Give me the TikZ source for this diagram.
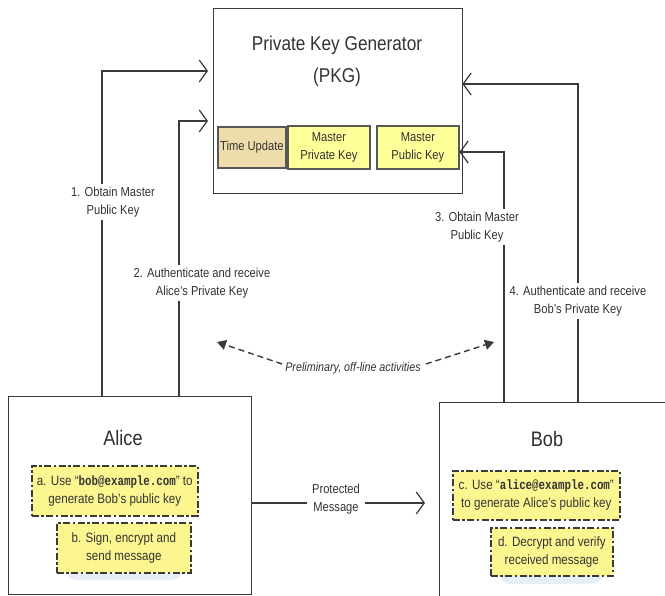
\documentclass[tikz,border=0pt]{standalone}
\usepackage{fontspec}
\setmainfont{Liberation Sans}[FakeStretch=0.86]
\newfontfamily\emailfont{Liberation Mono}[FakeStretch=0.8]
\usetikzlibrary{arrows.meta,calc}
\definecolor{txt}{HTML}{333333}
\definecolor{ln}{HTML}{3A3A3A}
\definecolor{ylw}{HTML}{FFFF99}
\definecolor{dylw}{HTML}{FCF690}
\definecolor{tan}{HTML}{EEDDAA}
\definecolor{glow}{HTML}{E8EEF7}
\begin{document}
\begin{tikzpicture}[x=1pt,y=-1pt,
  frame/.style={draw=ln, line width=1.4pt, fill=white, anchor=north west, inner sep=0pt},
  keybox/.style={draw=ln!85, line width=1.8pt, fill=ylw, anchor=north west, inner sep=1pt,
     align=center, text=txt, font=\fontsize{13}{18}\selectfont},
  timebox/.style={keybox, fill=tan},
  dbox/.style={draw=ln, line width=1.6pt, dash pattern=on 7pt off 2.5pt on 2.5pt off 2.5pt,
     fill=dylw, anchor=north west, inner sep=1pt, align=center, text=txt,
     font=\fontsize{13.5}{17.7}\selectfont},
  who/.style={text=txt!90!black, font=\fontsize{21}{24}\selectfont},
  lab/.style={fill=white, inner sep=3pt, align=center, text=txt, font=\fontsize{13}{18.5}\selectfont},
  conn/.style={draw=ln, line width=1.2pt, -{Straight Barb[length=8pt,width=22pt,line width=1.2pt]}},
  dsh/.style={draw=ln, line width=1.4pt, dash pattern=on 6pt off 4pt, -{Triangle[length=9pt,width=10pt]}},
]
\useasboundingbox (0,0) rectangle (665,596);
\clip (0,0) rectangle (665,596);
\fill[white] (0,0) rectangle (665,596);

% PKG
\node[frame, minimum width=249pt, minimum height=185pt] (pkg) at (213,8) {};
\node[text=txt, align=center, font=\fontsize{20}{32}\selectfont] (pkgt) at (337,61) {Private Key Generator\\(PKG)};
\node[timebox, minimum width=68pt, minimum height=41pt] (time) at (217,126) {Time Update};
\node[keybox, minimum width=82pt, minimum height=43pt] (mpriv) at (287,125) {Master\\Private Key};
\node[keybox, minimum width=82pt, minimum height=43pt] (mpub) at (376,125) {Master\\Public Key};

% Alice
\node[frame, minimum width=243pt, minimum height=198pt] (alice) at (8,396) {};
\node[who] (alicet) at (123,438) {Alice};
\fill[glow, rounded corners=10pt] (66,560) rectangle (182,580);
\node[dbox, minimum width=166pt, minimum height=50pt] (sa) at (31,465) {a. Use “{\emailfont\bfseries bob@example.com}” to\\generate Bob's public key};
\node[dbox, minimum width=134pt, minimum height=50pt] (sb) at (56,522) {b. Sign, encrypt and\\send message};

% Bob
\node[frame, minimum width=260pt, minimum height=230pt] (bob) at (439,402) {};
\node[who] (bobt) at (547,439) {Bob};
\fill[glow, rounded corners=10pt] (500,565) rectangle (602,584);
\node[dbox, minimum width=167pt, minimum height=49pt] (sc) at (452,470) {c. Use “{\emailfont\bfseries alice@example.com}”\\to generate Alice's public key};
\node[dbox, minimum width=122pt, minimum height=48pt] (sd) at (490,527) {d. Decrypt and verify\\received message};

% connectors to PKG
\coordinate (k1) at (102,71);
\coordinate (k2) at (179,121);
\coordinate (k3) at (504,152);
\coordinate (k4) at (578,84);
\draw[conn, shorten >=5pt] (alice.north -| k1) -- (k1) -- (pkg.west |- k1);
\draw[conn, shorten >=5pt] (alice.north -| k2) -- (k2) -- (pkg.west |- k2);
\draw[conn, shorten >=-4pt] (bob.north -| k3) -- (k3) -- (pkg.east |- k3);
\draw[conn, shorten >=-1pt] (bob.north -| k4) -- (k4) -- (pkg.east |- k4);

\node[lab] (l1) at (113,202) {1. Obtain Master\\Public Key};
\node[lab] (l2) at (202,283) {2. Authenticate and receive\\Alice's Private Key};
\node[lab] (l3) at (477,227) {3. Obtain Master\\Public Key};
\node[lab] (l4) at (578,301) {4. Authenticate and receive\\Bob's Private Key};

% protected message
\coordinate (pm) at (300,503);
\draw[conn, shorten >=14pt] (alice.east |- pm) -- (bob.west |- pm);
\node[lab, inner sep=5pt] (lpm) at (336,499) {Protected\\Message};

% preliminary
\node[text=txt, inner sep=2pt, font=\fontsize{12.5}{15}\selectfont\itshape] (pre) at (353,368) {Preliminary, off-line activities};
\coordinate (dl) at (217,342);
\coordinate (dr) at (494,342);
\draw[dsh] (pre.west) ++(-1,-4) -- (dl);
\draw[dsh] (pre.east) ++(3,-4) -- (dr);
\end{tikzpicture}
\end{document}
